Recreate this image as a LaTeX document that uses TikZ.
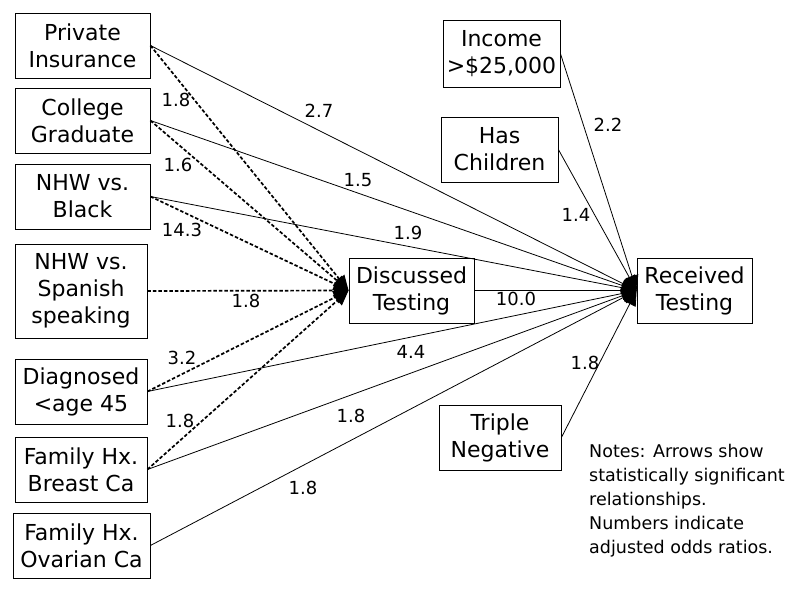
\documentclass[tikz,border=0pt]{standalone}
\usepackage{fontspec}
\setmainfont{DejaVu Sans}
\usetikzlibrary{arrows.meta}

\begin{document}
\begin{tikzpicture}[x=1pt,y=-1pt]
  \tikzset{
    varbox/.style={draw, line width=0.8pt, align=center, inner sep=1pt,
      font=\fontsize{22}{27}\selectfont, minimum height=65pt},
    direct/.style={line width=0.8pt, -{Triangle[length=15pt,width=13pt]}},
    viadisc/.style={direct, line width=1.7pt, dash pattern=on 3.5pt off 2pt},
    oddsr/.style={font=\fontsize{18}{20}\selectfont, inner sep=0pt},
  }
  \useasboundingbox (0,0) rectangle (800,592);

  % predictors on the left
  \node[varbox, minimum width=135pt] (priv) at (82.5,45.5) {Private\\Insurance};
  \node[varbox, minimum width=135pt] (coll) at (82.5,120.5) {College\\Graduate};
  \node[varbox, minimum width=135pt] (black) at (82.5,196.5) {NHW vs.\\Black};
  \node[varbox, minimum width=132pt, minimum height=94pt] (span) at (81,291) {NHW vs.\\Spanish\\speaking};
  \node[varbox, minimum width=132pt] (diag) at (81,391.5) {Diagnosed\\<age 45};
  \node[varbox, minimum width=132pt] (breast) at (81,469.5) {Family Hx.\\Breast Ca};
  \node[varbox, minimum width=137pt] (ovar) at (81.5,545.5) {Family Hx.\\Ovarian Ca};

  % mediator and outcome
  \node[varbox, minimum width=125pt] (disc) at (411.5,290.5) {Discussed\\Testing};
  \node[varbox, minimum width=115pt] (recv) at (694.5,290.5) {Received\\Testing};

  % predictors on the right
  \node[varbox, minimum width=117pt, minimum height=67pt] (income) at (501.5,53.5) {Income\\>\$25,000};
  \node[varbox, minimum width=117pt] (child) at (499.5,149.5) {Has\\Children};
  \node[varbox, minimum width=122pt] (triple) at (500,437.5) {Triple\\Negative};

  % paths to discussed testing
  \draw[viadisc] (priv.east) -- (disc.west);
  \draw[viadisc] (coll.east) -- (disc.west);
  \draw[viadisc] (black.east) -- (disc.west);
  \draw[viadisc] (span.east) -- (disc.west);
  \draw[viadisc] (diag.east) -- (disc.west);
  \draw[viadisc] (breast.east) -- (disc.west);

  % paths to received testing
  \draw[direct] (priv.east) -- (recv.west);
  \draw[direct] (coll.east) -- (recv.west);
  \draw[direct] (black.east) -- (recv.west);
  \draw[direct] (disc.east) -- (recv.west);
  \draw[direct] (diag.east) -- (recv.west);
  \draw[direct] (breast.east) -- (recv.west);
  \draw[direct] (ovar.east) -- (recv.west);
  \draw[direct] (income.east) -- (recv.west);
  \draw[direct] (child.east) -- (recv.west);
  \draw[direct] (triple.east) -- (recv.west);

  % odds ratios
  \node[oddsr] (or-priv-d) at (176,100) {1.8};
  \node[oddsr] (or-priv-r) at (319,111) {2.7};
  \node[oddsr] (or-coll-d) at (178,165) {1.6};
  \node[oddsr] (or-coll-r) at (358,180) {1.5};
  \node[oddsr] (or-black-d) at (182,230) {14.3};
  \node[oddsr] (or-black-r) at (408,233) {1.9};
  \node[oddsr] (or-span-d) at (246,301) {1.8};
  \node[oddsr] (or-disc-r) at (516,299) {10.0};
  \node[oddsr] (or-diag-d) at (182,358) {3.2};
  \node[oddsr] (or-diag-r) at (411,352) {4.4};
  \node[oddsr] (or-breast-d) at (180,421) {1.8};
  \node[oddsr] (or-breast-r) at (351,416) {1.8};
  \node[oddsr] (or-ovar-r) at (303,488) {1.8};
  \node[oddsr] (or-income-r) at (608,125) {2.2};
  \node[oddsr] (or-child-r) at (576,215) {1.4};
  \node[oddsr] (or-triple-r) at (585,363) {1.8};

  \node[anchor=north west, align=left, inner sep=0pt, font=\fontsize{17.5}{24}\selectfont]
    (notes) at (589,444) {Notes: Arrows show\\statistically significant\\relationships.\\Numbers indicate\\adjusted odds ratios.};
\end{tikzpicture}
\end{document}
